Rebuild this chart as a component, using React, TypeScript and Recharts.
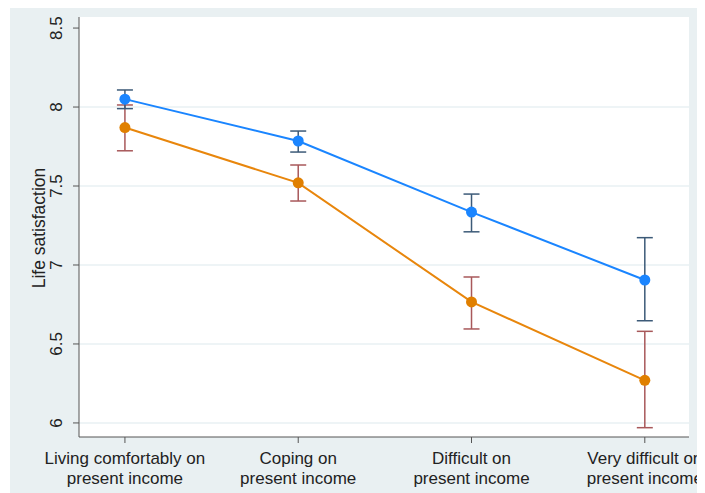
import { LineChart, Line, XAxis, YAxis, CartesianGrid, ErrorBar } from 'recharts';

const categories = [
  ['Living comfortably on', 'present income'],
  ['Coping on', 'present income'],
  ['Difficult on', 'present income'],
  ['Very difficult on', 'present income'],
];

const blueMean = [8.05, 7.785, 7.335, 6.905];
const blueLow = [7.99, 7.715, 7.21, 6.647];
const blueHigh = [8.108, 7.848, 7.449, 7.173];

const orangeMean = [7.87, 7.52, 6.766, 6.27];
const orangeLow = [7.723, 7.405, 6.595, 5.97];
const orangeHigh = [8.013, 7.633, 6.924, 6.58];

const yTicks = [6, 6.5, 7, 7.5, 8, 8.5];

const data = categories.map((_, i) => ({
  idx: i,
  blue: blueMean[i],
  blueErr: [blueMean[i] - blueLow[i], blueHigh[i] - blueMean[i]],
  orange: orangeMean[i],
  orangeErr: [orangeMean[i] - orangeLow[i], orangeHigh[i] - orangeMean[i]],
}));

const FONT = '"Liberation Sans", Arial, sans-serif';

const YTick = (props: any) => {
  const { x, y, payload } = props;
  const tx = x - 9;
  return (
    <text
      x={tx}
      y={y}
      textAnchor="middle"
      transform={`rotate(-90, ${tx}, ${y})`}
      fontFamily={FONT}
      fontSize={17}
      fill="#222"
    >
      {payload.value}
    </text>
  );
};

const XTick = (props: any) => {
  const { x, y, payload } = props;
  const lines = categories[payload.value] || [];
  return (
    <g>
      <text x={x} y={y + 19} textAnchor="middle" fontFamily={FONT} fontSize={17} fill="#222">
        {lines[0]}
      </text>
      <text x={x} y={y + 39} textAnchor="middle" fontFamily={FONT} fontSize={17} fill="#222">
        {lines[1]}
      </text>
    </g>
  );
};

export default function App() {
  return (
    <div style={{ position: 'relative', width: 705, height: 493, margin: '-8px 0 0 -8px', background: '#fff' }}>
      <div
        style={{ position: 'absolute', left: 10, top: 7, width: 695, height: 486, background: '#e9f0f2' }}
      />
      <div style={{ position: 'absolute', left: 0, top: 0 }}>
        <LineChart width={705} height={493} data={data} margin={{ top: 17, right: 16, bottom: 0, left: 0 }}>
          <CartesianGrid
            vertical={false}
            fill="#ffffff"
            stroke="#e8f0f3"
            strokeWidth={1.5}
            horizontalValues={[6, 6.5, 7, 7.5, 8]}
          />
          <XAxis
            dataKey="idx"
            type="number"
            domain={[-0.265, 3.255]}
            ticks={[0, 1, 2, 3]}
            interval={0}
            height={56}
            tick={<XTick />}
            tickSize={6}
            axisLine={{ stroke: '#555' }}
            tickLine={{ stroke: '#555' }}
          />
          <YAxis
            type="number"
            domain={[5.911, 8.57]}
            ticks={yTicks}
            width={79}
            tick={<YTick />}
            tickSize={6}
            axisLine={{ stroke: '#555' }}
            tickLine={{ stroke: '#555' }}
            label={{
              content: () => (
                <text
                  x={45}
                  y={228}
                  textAnchor="middle"
                  transform="rotate(-90, 45, 228)"
                  fontFamily={FONT}
                  fontSize={17.5}
                  fill="#222"
                >
                  Life satisfaction
                </text>
              ),
            }}
          />
          <Line
            dataKey="orange"
            stroke="#e8860c"
            strokeWidth={2}
            dot={{ r: 5.5, fill: '#e07f00', stroke: 'none' }}
            isAnimationActive={false}
          >
            <ErrorBar dataKey="orangeErr" direction="y" width={8} stroke="#a8585a" strokeWidth={1.5} />
          </Line>
          <Line
            dataKey="blue"
            stroke="#1a85ff"
            strokeWidth={2}
            dot={{ r: 5.5, fill: '#1a85ff', stroke: 'none' }}
            isAnimationActive={false}
          >
            <ErrorBar dataKey="blueErr" direction="y" width={8} stroke="#3c5a78" strokeWidth={1.5} />
          </Line>
        </LineChart>
      </div>
    </div>
  );
}
